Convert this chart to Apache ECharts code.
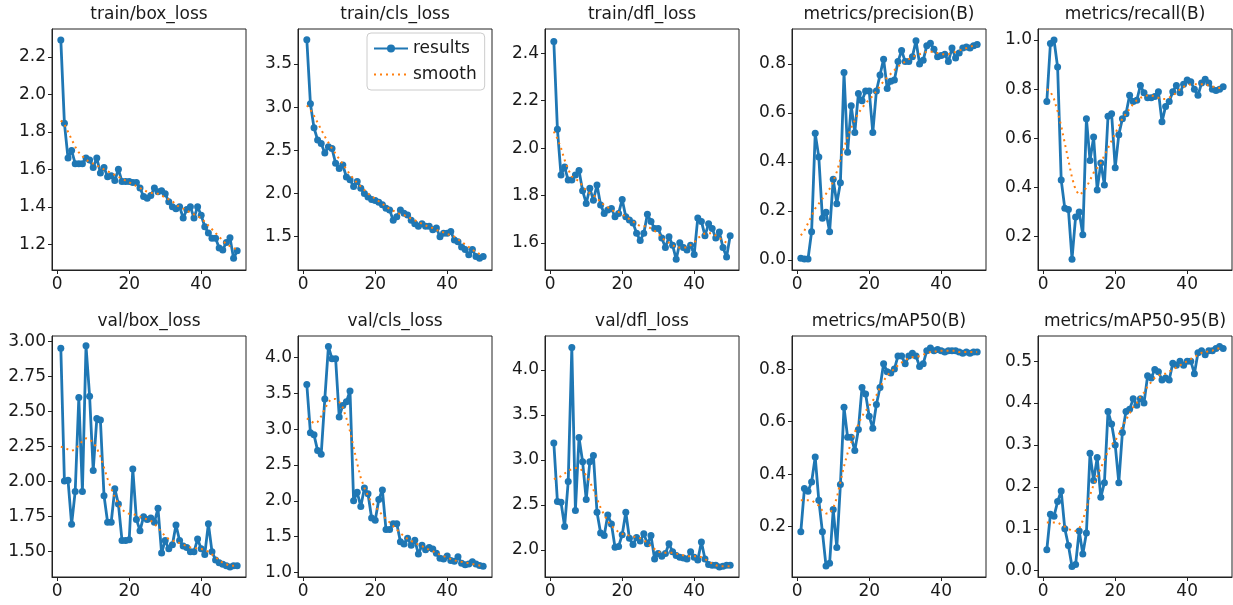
<!DOCTYPE html>
<html>
<head>
<meta charset="utf-8">
<title>results</title>
<script src="https://cdn.jsdelivr.net/npm/echarts@6/dist/echarts.min.js"></script>
<style>
  html, body { margin: 0; padding: 0; background: #fff; }
  #chart { width: 1233px; height: 605px; }
</style>
</head>
<body>
<div id="chart"></div>
<script>
// epochs on the x axis
const epochs = [1,2,3,4,5,6,7,8,9,10,11,12,13,14,15,16,17,18,19,20,21,22,23,24,25,
  26,27,28,29,30,31,32,33,34,35,36,37,38,39,40,41,42,43,44,45,46,47,48,49,50];
const xTicks = [0, 20, 40];

const titles = [
  "train/box_loss", "train/cls_loss", "train/dfl_loss", "metrics/precision(B)", "metrics/recall(B)",
  "val/box_loss", "val/cls_loss", "val/dfl_loss", "metrics/mAP50(B)", "metrics/mAP50-95(B)",
];

// ---- results / smooth per panel ----
const trainBox = [2.29,1.845,1.66,1.70,1.63,1.63,1.63,1.66,1.65,1.61,1.66,1.58,1.61,1.56,1.565,1.54,1.60,1.535,1.535,1.535,
  1.53,1.53,1.50,1.455,1.445,1.46,1.50,1.48,1.485,1.47,1.427,1.40,1.39,1.40,1.34,1.385,1.40,1.34,1.40,1.355,
  1.294,1.26,1.232,1.232,1.18,1.17,1.21,1.235,1.125,1.165];
const trainBoxSmooth = [1.86,1.84,1.80,1.76,1.72,1.69,1.67,1.65,1.64,1.63,1.62,1.61,1.60,1.59,1.58,1.57,1.56,1.55,1.54,1.53,
  1.52,1.51,1.50,1.49,1.48,1.475,1.47,1.47,1.46,1.45,1.44,1.43,1.41,1.40,1.39,1.38,1.37,1.36,1.35,1.34,
  1.32,1.30,1.28,1.26,1.24,1.22,1.20,1.19,1.18,1.17];

const trainCls = [3.78,3.04,2.76,2.62,2.58,2.47,2.54,2.52,2.35,2.29,2.33,2.19,2.16,2.08,2.14,2.06,2.00,1.96,1.93,1.92,
  1.90,1.87,1.83,1.81,1.69,1.73,1.81,1.77,1.75,1.69,1.65,1.62,1.65,1.62,1.62,1.58,1.60,1.50,1.54,1.54,
  1.56,1.46,1.44,1.38,1.35,1.29,1.35,1.27,1.25,1.27];
const trainClsSmooth = [3.02,2.97,2.90,2.82,2.74,2.66,2.59,2.52,2.46,2.40,2.34,2.28,2.22,2.17,2.12,2.08,2.04,2.00,1.97,1.94,
  1.91,1.88,1.85,1.82,1.80,1.78,1.76,1.75,1.73,1.71,1.69,1.67,1.65,1.63,1.61,1.60,1.58,1.56,1.55,1.53,
  1.52,1.50,1.47,1.44,1.41,1.38,1.35,1.32,1.30,1.29];

const trainDfl = [2.45,2.08,1.886,1.92,1.865,1.865,1.886,1.905,1.82,1.766,1.83,1.78,1.844,1.76,1.724,1.738,1.745,1.71,1.724,1.783,
  1.71,1.696,1.684,1.64,1.61,1.64,1.72,1.69,1.66,1.66,1.62,1.58,1.625,1.59,1.53,1.60,1.58,1.57,1.59,1.55,
  1.705,1.69,1.63,1.68,1.66,1.62,1.645,1.58,1.54,1.63];
const trainDflSmooth = [2.07,2.04,2.00,1.95,1.91,1.88,1.87,1.86,1.84,1.82,1.81,1.80,1.79,1.77,1.76,1.75,1.74,1.73,1.73,1.72,
  1.71,1.70,1.69,1.68,1.67,1.67,1.67,1.66,1.65,1.64,1.62,1.61,1.60,1.59,1.58,1.58,1.58,1.58,1.59,1.60,
  1.62,1.63,1.64,1.64,1.64,1.63,1.62,1.61,1.60,1.60];

const precision = [0.007,0.004,0.004,0.115,0.517,0.42,0.17,0.195,0.115,0.33,0.23,0.315,0.765,0.44,0.63,0.52,0.68,0.65,0.69,0.69,
  0.52,0.69,0.755,0.82,0.70,0.73,0.735,0.81,0.855,0.81,0.81,0.83,0.895,0.80,0.815,0.875,0.885,0.86,0.83,0.835,
  0.84,0.81,0.865,0.825,0.845,0.865,0.87,0.865,0.875,0.88];
const precisionSmooth = [0.10,0.12,0.15,0.18,0.21,0.23,0.25,0.27,0.29,0.32,0.36,0.41,0.46,0.50,0.54,0.57,0.60,0.62,0.64,0.655,
  0.67,0.69,0.71,0.73,0.745,0.76,0.775,0.79,0.80,0.81,0.82,0.83,0.835,0.84,0.845,0.85,0.85,0.85,0.845,0.84,
  0.84,0.84,0.845,0.85,0.855,0.86,0.865,0.87,0.875,0.875];

const recall = [0.75,0.986,1.0,0.89,0.43,0.315,0.31,0.108,0.28,0.30,0.207,0.68,0.51,0.605,0.39,0.50,0.41,0.69,0.70,0.48,
  0.615,0.68,0.70,0.775,0.75,0.755,0.815,0.785,0.765,0.765,0.77,0.79,0.667,0.73,0.75,0.79,0.815,0.785,0.82,0.837,
  0.83,0.80,0.775,0.825,0.84,0.825,0.80,0.795,0.80,0.81];
const recallSmooth = [0.80,0.79,0.76,0.71,0.65,0.58,0.51,0.44,0.39,0.37,0.38,0.40,0.43,0.46,0.48,0.50,0.53,0.56,0.59,0.62,
  0.65,0.68,0.70,0.72,0.74,0.755,0.765,0.77,0.775,0.775,0.77,0.765,0.76,0.76,0.765,0.775,0.785,0.80,0.81,0.815,
  0.82,0.82,0.82,0.82,0.82,0.815,0.81,0.81,0.805,0.805];

const valBox = [2.952,2.005,2.01,1.695,1.93,2.60,1.93,2.97,2.61,2.08,2.45,2.44,1.90,1.71,1.71,1.95,1.84,1.58,1.58,1.585,
  2.09,1.73,1.65,1.75,1.73,1.74,1.71,1.81,1.49,1.58,1.52,1.55,1.69,1.58,1.54,1.53,1.50,1.50,1.59,1.52,
  1.48,1.70,1.50,1.44,1.42,1.41,1.40,1.39,1.40,1.40];
const valBoxSmooth = [2.25,2.24,2.23,2.22,2.23,2.26,2.29,2.31,2.30,2.28,2.24,2.18,2.10,2.02,1.95,1.89,1.84,1.80,1.78,1.77,
  1.77,1.76,1.75,1.74,1.73,1.72,1.70,1.67,1.64,1.61,1.59,1.58,1.57,1.56,1.55,1.54,1.53,1.53,1.52,1.52,
  1.51,1.50,1.48,1.46,1.44,1.42,1.41,1.40,1.40,1.40];

const valCls = [3.62,2.95,2.92,2.70,2.65,3.42,4.15,3.98,3.98,3.17,3.33,3.38,3.53,2.00,2.12,1.92,2.18,2.10,1.76,1.73,
  2.02,2.15,1.60,1.60,1.68,1.68,1.43,1.40,1.48,1.38,1.45,1.26,1.38,1.32,1.35,1.33,1.27,1.20,1.19,1.23,
  1.17,1.16,1.22,1.13,1.11,1.12,1.15,1.12,1.10,1.09];
const valClsSmooth = [3.15,3.12,3.08,3.10,3.18,3.28,3.38,3.42,3.42,3.38,3.30,3.15,2.97,2.75,2.52,2.32,2.18,2.07,1.98,1.92,
  1.86,1.80,1.75,1.70,1.65,1.60,1.55,1.51,1.47,1.44,1.42,1.39,1.37,1.34,1.32,1.30,1.27,1.25,1.23,1.21,
  1.19,1.17,1.16,1.15,1.14,1.13,1.12,1.11,1.10,1.10];

const valDfl = [3.19,2.54,2.53,2.26,2.76,4.25,2.44,3.25,2.98,2.56,2.98,3.05,2.42,2.19,2.16,2.39,2.29,2.03,2.04,2.17,
  2.42,2.13,2.06,2.14,2.10,2.18,2.07,2.16,1.90,1.96,1.93,1.96,2.07,1.98,1.94,1.92,1.91,1.90,1.98,1.92,
  1.89,2.09,1.90,1.84,1.83,1.83,1.81,1.82,1.83,1.83];
const valDflSmooth = [2.79,2.80,2.82,2.85,2.88,2.90,2.91,2.91,2.88,2.83,2.76,2.67,2.57,2.47,2.39,2.32,2.27,2.23,2.20,2.18,
  2.17,2.16,2.15,2.14,2.13,2.11,2.08,2.04,2.01,1.98,1.97,1.97,1.97,1.97,1.96,1.95,1.94,1.93,1.93,1.93,
  1.93,1.92,1.90,1.87,1.85,1.83,1.82,1.82,1.82,1.82];

const map50 = [0.18,0.345,0.335,0.37,0.465,0.30,0.18,0.05,0.06,0.265,0.12,0.36,0.655,0.54,0.54,0.49,0.57,0.73,0.705,0.62,
  0.575,0.665,0.73,0.82,0.79,0.785,0.80,0.85,0.85,0.82,0.85,0.86,0.85,0.81,0.82,0.87,0.88,0.87,0.875,0.87,
  0.865,0.87,0.87,0.87,0.865,0.86,0.865,0.86,0.865,0.865];
const map50Smooth = [0.30,0.30,0.30,0.30,0.29,0.28,0.26,0.25,0.25,0.27,0.31,0.37,0.43,0.48,0.52,0.56,0.59,0.62,0.64,0.66,
  0.68,0.70,0.73,0.755,0.775,0.79,0.80,0.815,0.825,0.835,0.84,0.845,0.845,0.85,0.855,0.86,0.865,0.865,0.87,0.87,
  0.87,0.87,0.87,0.87,0.865,0.865,0.865,0.865,0.865,0.865];

const map5095 = [0.05,0.135,0.13,0.165,0.19,0.10,0.06,0.01,0.015,0.095,0.04,0.09,0.28,0.215,0.27,0.175,0.21,0.38,0.35,0.30,
  0.21,0.33,0.38,0.385,0.41,0.395,0.41,0.40,0.465,0.46,0.48,0.475,0.455,0.46,0.455,0.495,0.49,0.50,0.49,0.50,
  0.50,0.47,0.52,0.525,0.515,0.525,0.525,0.53,0.535,0.53];
const map5095Smooth = [0.115,0.115,0.115,0.115,0.11,0.105,0.10,0.095,0.095,0.10,0.12,0.15,0.18,0.205,0.225,0.245,0.265,0.285,0.30,0.31,
  0.325,0.345,0.36,0.375,0.39,0.40,0.415,0.425,0.44,0.45,0.46,0.465,0.47,0.47,0.475,0.48,0.485,0.49,0.495,0.50,
  0.505,0.51,0.515,0.52,0.52,0.525,0.525,0.53,0.53,0.53];

// y tick labels per panel
const yTickLabels = [
  ["1.2", "1.4", "1.6", "1.8", "2.0", "2.2"],
  ["1.5", "2.0", "2.5", "3.0", "3.5"],
  ["1.6", "1.8", "2.0", "2.2", "2.4"],
  ["0.0", "0.2", "0.4", "0.6", "0.8"],
  ["0.2", "0.4", "0.6", "0.8", "1.0"],
  ["1.50", "1.75", "2.00", "2.25", "2.50", "2.75", "3.00"],
  ["1.0", "1.5", "2.0", "2.5", "3.0", "3.5", "4.0"],
  ["2.0", "2.5", "3.0", "3.5", "4.0"],
  ["0.2", "0.4", "0.6", "0.8"],
  ["0.0", "0.1", "0.2", "0.3", "0.4", "0.5"],
];

const resultsData = [trainBox, trainCls, trainDfl, precision, recall, valBox, valCls, valDfl, map50, map5095];
const smoothData = [trainBoxSmooth, trainClsSmooth, trainDflSmooth, precisionSmooth, recallSmooth,
  valBoxSmooth, valClsSmooth, valDflSmooth, map50Smooth, map5095Smooth];

// axis limits as read from the frame
const yRanges = [
  [1.063, 2.348], [1.114, 3.905], [1.485, 2.503], [-0.041, 0.943], [0.064, 1.045],
  [1.319, 3.04], [0.939, 4.297], [1.70, 4.378], [0.008, 0.926], [-0.015, 0.56],
];

const FONT = "DejaVu Sans";
const BLUE = "#1f77b4";
const ORANGE = "#ff7f0e";
const gridLefts = [52, 298, 545, 792, 1038];
const gridTops = [29, 336];
const gridW = 194;
const gridH = 241;

const chart = echarts.init(document.getElementById("chart"), null, { renderer: "canvas" });

const grids = [], xAxes = [], yAxes = [], titleOpts = [], series = [];

titles.forEach((t, i) => {
  const col = i % 5;
  const row = Math.floor(i / 5);
  const left = gridLefts[col];
  const top = gridTops[row];

  grids.push({
    left, top, width: gridW, height: gridH,
    show: true, borderColor: "#222", borderWidth: 1, backgroundColor: "transparent",
  });

  titleOpts.push({
    text: t,
    left: left + gridW / 2,
    top: top - 23,
    textAlign: "center",
    padding: 0,
    textStyle: { fontFamily: FONT, fontSize: 17, fontWeight: "normal", color: "#1a1a1a" },
  });

  xAxes.push({
    type: "value", gridIndex: i, min: -1.45, max: 52.45,
    axisLine: { show: true, onZero: false, lineStyle: { color: "#222", width: 1 } },
    axisTick: { show: true, length: 4, customValues: xTicks, lineStyle: { color: "#222" } },
    axisLabel: {
      customValues: xTicks, fontFamily: FONT, fontSize: 17, color: "#1a1a1a", margin: 6,
    },
    splitLine: { show: false },
  });

  const labels = yTickLabels[i];
  const vals = labels.map(Number);
  yAxes.push({
    type: "value", gridIndex: i, min: yRanges[i][0], max: yRanges[i][1],
    axisLine: { show: true, onZero: false, lineStyle: { color: "#222", width: 1 } },
    axisTick: { show: true, length: 4, customValues: vals, lineStyle: { color: "#222" } },
    axisLabel: {
      customValues: vals, fontFamily: FONT, fontSize: 17, color: "#1a1a1a", margin: 6,
      formatter: (v) => {
        const k = vals.findIndex((x) => Math.abs(x - v) < 1e-9);
        return k >= 0 ? labels[k] : "";
      },
    },
    splitLine: { show: false },
  });

  series.push({
    name: "results", type: "line", xAxisIndex: i, yAxisIndex: i,
    data: epochs.map((e, k) => [e, resultsData[i][k]]),
    symbol: "circle", symbolSize: 7, showSymbol: true,
    lineStyle: { color: BLUE, width: 2.8 },
    itemStyle: { color: BLUE },
    emphasis: { disabled: true },
    z: 2,
  });
  series.push({
    name: "smooth", type: "line", xAxisIndex: i, yAxisIndex: i,
    data: epochs.map((e, k) => [e, smoothData[i][k]]),
    symbol: "none",
    lineStyle: { color: ORANGE, width: 2, type: [2, 4] },
    itemStyle: { color: ORANGE },
    emphasis: { disabled: true },
    z: 3,
  });
});

chart.setOption({
  animation: false,
  backgroundColor: "#fff",
  title: titleOpts,
  legend: {
    data: [
      { name: "results" },
      { name: "smooth", itemStyle: { opacity: 0 } },
    ],
    orient: "vertical",
    left: 367, top: 33,
    itemWidth: 34, itemHeight: 10, itemGap: 9,
    padding: [7, 8, 7, 6],
    backgroundColor: "#fff",
    borderColor: "#ccc", borderWidth: 1, borderRadius: 4,
    selectedMode: false,
    textStyle: { fontFamily: FONT, fontSize: 17, color: "#1a1a1a" },
  },
  grid: grids,
  xAxis: xAxes,
  yAxis: yAxes,
  series,
});
</script>
</body>
</html>
